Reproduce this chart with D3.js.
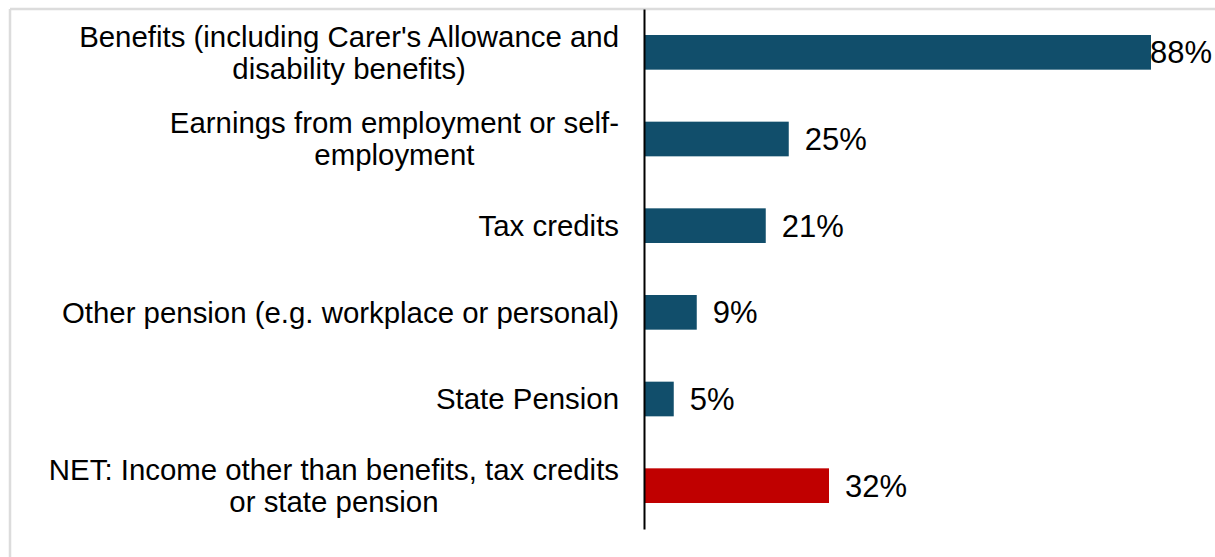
<!DOCTYPE html>
<html>
<head>
<meta charset="utf-8">
<script src="https://cdn.jsdelivr.net/npm/d3@7"></script>
<style>
  html, body { margin: 0; padding: 0; background: #fff; }
  svg { display: block; }
  text { font-family: Arial, "Liberation Sans", sans-serif; fill: #000; }
</style>
</head>
<body>
<svg id="chart" width="1215" height="557"></svg>
<script>
// Sources of household income (share of respondents)
const categories = [
  "Benefits (including Carer's Allowance and\ndisability benefits)",
  "Earnings from employment or self-\nemployment",
  "Tax credits",
  "Other pension (e.g. workplace or personal)",
  "State Pension",
  "NET: Income other than benefits, tax credits\nor state pension"
];
const values = [88, 25, 21, 9, 5, 32];
const valueLabels = ["88%", "25%", "21%", "9%", "5%", "32%"];
const barColors = ["#114e6b", "#114e6b", "#114e6b", "#114e6b", "#114e6b", "#c00000"];

const W = 1215, H = 557;
const svg = d3.select("#chart");

// light frame along the top and left edges
svg.append("line").attr("x1", 10).attr("x2", W).attr("y1", 9).attr("y2", 9)
  .attr("stroke", "#dcdcdc").attr("stroke-width", 2.5);
svg.append("line").attr("x1", 10).attr("x2", 10).attr("y1", 9).attr("y2", H)
  .attr("stroke", "#dcdcdc").attr("stroke-width", 2.5);

const axisX = 644;
const x = d3.scaleLinear().domain([0, 100]).range([axisX + 1, axisX + 1 + 575]);
const y = d3.scaleBand().domain(categories).range([9, 529])
  .paddingInner(0.6).paddingOuter(0.3);

// bars
svg.append("g").selectAll("rect")
  .data(categories)
  .join("rect")
  .attr("x", x(0))
  .attr("y", d => y(d))
  .attr("width", (d, i) => x(values[i]) - x(0))
  .attr("height", y.bandwidth())
  .attr("fill", (d, i) => barColors[i]);

// vertical category axis
const yAxis = svg.append("g")
  .attr("transform", `translate(${axisX},0)`)
  .call(d3.axisLeft(y).tickSize(0).tickSizeOuter(0).tickFormat(""));
yAxis.select(".domain").attr("stroke", "#000").attr("stroke-width", 2);

// category labels: lines centred on each other, block right-aligned to the axis
const lineH = 32;
const labelRight = 619;
categories.forEach((cat, i) => {
  const lines = cat.split("\n");
  const cy = y(cat) + y.bandwidth() / 2;
  const g = svg.append("g");
  const t = g.append("text")
    .attr("font-size", "29.4px")
    .attr("text-anchor", "middle");
  lines.forEach((ln, k) => {
    t.append("tspan")
      .attr("x", 0)
      .attr("y", cy + (k - (lines.length - 1) / 2) * lineH)
      .attr("dy", "0.35em")
      .text(ln);
  });
  const boxW = d3.max(t.selectAll("tspan").nodes(), n => n.getComputedTextLength());
  t.attr("transform", `translate(${labelRight - boxW / 2},0)`);
});

// value labels at the bar ends, kept inside the frame
svg.append("g").selectAll("text")
  .data(categories)
  .join("text")
  .attr("font-size", "31px")
  .attr("y", d => y(d) + y.bandwidth() / 2)
  .attr("dy", "0.35em")
  .text((d, i) => valueLabels[i])
  .attr("x", function(d, i) {
    const w = this.getComputedTextLength();
    return Math.min(x(values[i]) + 16, W - 3 - w);
  });
</script>
</body>
</html>
